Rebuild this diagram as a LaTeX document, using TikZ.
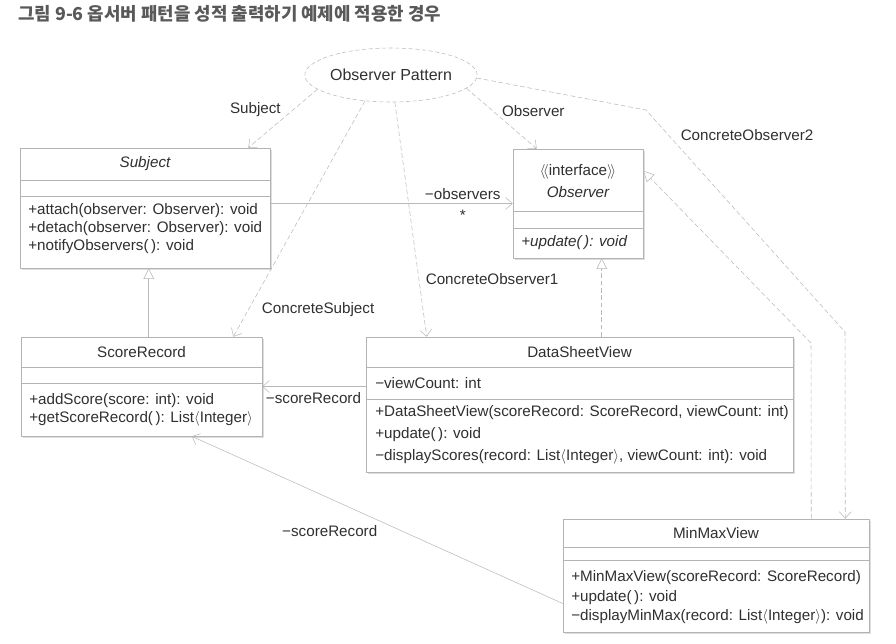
\documentclass[tikz,border=0pt]{standalone}
\usepackage{fontspec}
\setmainfont{Liberation Sans}
\newfontfamily\krfont{Noto Sans CJK KR}
\usepackage{tikz}
\usetikzlibrary{calc, arrows.meta, shapes.geometric, shadows, positioning}
\definecolor{linegray}{HTML}{B8B8B8}
\definecolor{boxgray}{HTML}{B4B4B4}
\definecolor{textgray}{HTML}{303030}
\def\px{0.75pt}
\newcommand{\classfont}{\fontsize{11.4}{13.5}\selectfont}
\tikzset{
    titlenode/.style = {draw=none, inner sep=0em, text=black!65, font=\krfont\bfseries\fontsize{13.4}{15}\selectfont},
    patternnode/.style = {draw=linegray, dash pattern=on 3pt off 2pt, ellipse, inner sep=0em, 
      minimum width=162*\px, minimum height=54*\px, text=textgray, font=\fontsize{12}{14}\selectfont},
    classnode/.style = {draw=boxgray, fill=white, rectangle, inner sep=0em, 
      drop shadow={shadow xshift=1.6pt, shadow yshift=-1.6pt, fill=black!13, opacity=1}},
    classline/.style = {boxgray},
    textnode/.style = {draw=none, inner sep=0em, text=textgray, font=\classfont},
    membernode/.style = {textnode, align=left, anchor=west},
    depend/.style = {linegray, dash pattern=on 3.5pt off 2pt, -{Straight Barb[length=5pt, width=9pt]}},
    realize/.style = {linegray, dash pattern=on 3.5pt off 2pt, -{Triangle[open, length=8pt, width=8pt, fill=white]}},
    inherit/.style = {linegray, -{Triangle[open, length=8pt, width=8pt, fill=white]}},
    assoc/.style = {linegray, -{Straight Barb[length=5pt, width=9pt]}},
    every label/.style = {textnode}
}

\begin{document}
\begin{tikzpicture}[x=\px, y=-\px]
    \useasboundingbox (0,0) rectangle (896,643);
    \node [titlenode, name=title, anchor=west] at (18,14) {그림 9-6 옵서버 패턴을 성적 출력하기 예제에 적용한 경우};
    \node [patternnode, name=pattern] at (391,75) {Observer Pattern};

    \node [classnode, name=Subject, minimum width=250*\px, minimum height=120*\px] at (145,208) {};
    \node [textnode, name=SubjectName, font=\classfont\itshape] at (145,164) {Subject};
    \draw [classline] (Subject.west |- 0,180) -- (Subject.east |- 0,180);
    \draw [classline] (Subject.west |- 0,196) -- (Subject.east |- 0,196);
    \node [membernode, name=SubjectOps, font=\fontsize{11.4}{13.5}\selectfont] at (28,229) 
      {+attach(observer: Observer): void\\+detach(observer: Observer): void\\+notifyObservers(\,): void};

    \node [classnode, name=Observer, minimum width=130*\px, minimum height=109*\px] at (578,203.5) {};
    \node [textnode, name=ObserverType] at (578,172) {$\langle\!\langle$interface$\rangle\!\rangle$};
    \node [textnode, name=ObserverName, font=\classfont\itshape] at (578,192) {Observer};
    \draw [classline] (Observer.west |- 0,211) -- (Observer.east |- 0,211);
    \draw [classline] (Observer.west |- 0,228) -- (Observer.east |- 0,228);
    \node [membernode, name=ObserverOps, font=\classfont\itshape] at (521,243) {+update(\,): void};

    \node [classnode, name=ScoreRecord, minimum width=241*\px, minimum height=99*\px] at (141.5,386.5) {};
    \node [textnode, name=ScoreRecordName] at (141.5,352) {ScoreRecord};
    \draw [classline] (ScoreRecord.west |- 0,367) -- (ScoreRecord.east |- 0,367);
    \draw [classline] (ScoreRecord.west |- 0,383) -- (ScoreRecord.east |- 0,383);
    \node [membernode, name=ScoreRecordOps] at (29,410) 
      {+addScore(score: int): void\\+getScoreRecord(\,): List$\langle$Integer$\rangle$};

    \node [classnode, name=DataSheetView, minimum width=427*\px, minimum height=135*\px] at (579.5,404.5) {};
    \node [textnode, name=DataSheetViewName] at (579.5,352) {DataSheetView};
    \draw [classline] (DataSheetView.west |- 0,367) -- (DataSheetView.east |- 0,367);
    \draw [classline] (DataSheetView.west |- 0,399) -- (DataSheetView.east |- 0,399);
    \node [membernode, name=DataSheetViewAttr] at (375,383) {−viewCount: int};
    \node [membernode, name=DataSheetViewOps, font=\fontsize{11.4}{16.5}\selectfont] at (375,435) 
      {+DataSheetView(scoreRecord: ScoreRecord, viewCount: int)\\+update(\,): void\\−displayScores(record: List$\langle$Integer$\rangle$, viewCount: int): void};

    \node [classnode, name=MinMaxView, minimum width=306*\px, minimum height=113*\px] at (716,575.5) {};
    \node [textnode, name=MinMaxViewName] at (716,533) {MinMaxView};
    \draw [classline] (MinMaxView.west |- 0,547) -- (MinMaxView.east |- 0,547);
    \draw [classline] (MinMaxView.west |- 0,560) -- (MinMaxView.east |- 0,560);
    \node [membernode, name=MinMaxViewOps, font=\fontsize{11.4}{14.6}\selectfont] at (571,597.5) 
      {+MinMaxView(scoreRecord: ScoreRecord)\\+update(\,): void\\−displayMinMax(record: List$\langle$Integer$\rangle$): void};

    \draw [depend] (pattern.191) -- node[textnode, pos=0.5, above left=2pt] {Subject} ($(Subject.north east)+(-22,0)$);
    \draw [depend] (pattern.350) -- node[textnode, pos=0.37, right=7pt] {Observer} ($(Observer.north west)+(24,0)$);
    \draw [depend] (pattern.225) -- node[textnode, pos=0.886, right=10pt] {ConcreteSubject} ($(ScoreRecord.north east)+(-29,0)$);
    \draw [depend] (pattern.278) -- node[textnode, pos=0.753, right=5pt] {ConcreteObserver1} ($(DataSheetView.north west)+(61,0)$);
    \draw [depend] (pattern.358) -- (646,110) -- node[textnode, pos=0.113, right=9pt] {ConcreteObserver2} (845,332) 
      -- ($(MinMaxView.north east)+(-24,0)$);

    \draw [realize] ($(MinMaxView.north east)+(-58,0)$) -- (811,343) -- ($(Observer.north east)+(0,22)$);
    \draw [realize] ($(DataSheetView.north west)+(236,0)$) -- ($(Observer.south west)+(89,0)$);
    \draw [inherit] ($(ScoreRecord.north west)+(128,0)$) -- ($(Subject.south west)+(129,0)$);

    \draw [assoc] (Subject.east |- Observer.west) -- node[textnode, pos=0.794, above=3pt] {−observers} 
      node[textnode, pos=0.794, below=5pt] {*} (Observer.west);
    \draw [assoc] (DataSheetView.west |- ScoreRecord.east) -- node[textnode, pos=0.505, below=4pt] {−scoreRecord} (ScoreRecord.east);
    \draw [assoc] ($(MinMaxView.west)+(0,28)$) -- node[textnode, pos=0.628, below=20pt] {−scoreRecord} ($(ScoreRecord.south west)+(171,0)$);
\end{tikzpicture}
\end{document}
